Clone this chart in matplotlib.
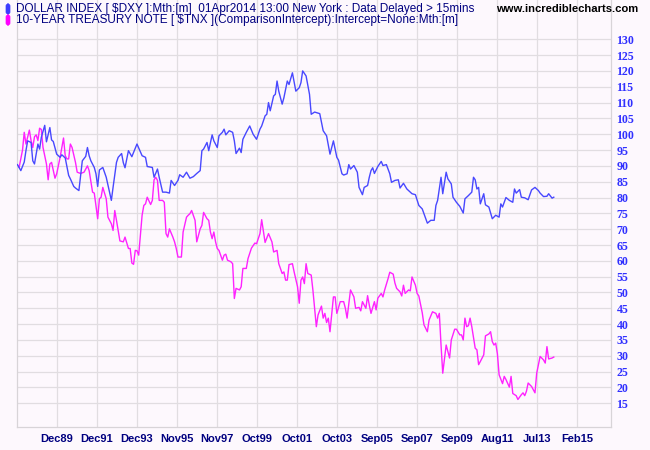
import numpy as np
import matplotlib
matplotlib.use('Agg')
import matplotlib.pyplot as plt
from matplotlib.patches import FancyBboxPatch

# months counted from Jan 1988
dxy_month = [0, 2, 4, 5, 6, 8, 9, 10, 12, 13, 14, 16, 17, 19, 20, 21, 23, 25, 26, 28,
             30, 31, 33, 34, 36, 38, 40, 41, 42, 43, 45, 46, 47, 48, 50, 52, 55, 56, 58, 59,
             61, 62, 63, 65, 67, 70, 73, 75, 76, 79, 80, 82, 83, 85, 87, 89, 90, 92, 94, 95,
             97, 99, 101, 103, 105, 107, 108, 109, 111, 112, 114, 115, 117, 118, 120, 121, 122, 124, 126, 127,
             128, 130, 131, 132, 134, 136, 138, 140, 142, 143, 145, 146, 147, 148, 150, 151, 152, 153, 155, 156,
             158, 159, 161, 163, 165, 166, 167, 169, 171, 172, 174, 177, 179, 181, 183, 185, 187, 188, 190, 191,
             193, 194, 195, 197, 199, 200, 202, 203, 205, 206, 207, 208, 209, 211, 213, 214, 216, 218, 219, 221,
             223, 224, 226, 228, 230, 231, 233, 235, 237, 238, 240, 242, 244, 245, 246, 248, 249, 251, 252, 254,
             255, 257, 259, 261, 262, 264, 266, 267, 268, 269, 270, 271, 273, 274, 276, 278, 280, 282, 283, 284,
             286, 288, 290, 291, 292, 294, 295, 297, 299, 301, 303, 305, 306, 308, 310, 311, 313, 314]
dxy_value = [90.4, 88.5, 91.2, 94.8, 97.9, 97.4, 91.6, 90.6, 96.9, 95.3, 99.0, 102.8, 97.6, 102.1, 98.2, 97.7, 93.7, 92.7, 93.5, 92.5,
             87.0, 85.9, 83.5, 83.0, 82.2, 91.6, 93.0, 95.8, 93.2, 91.6, 89.5, 87.5, 83.5, 88.7, 89.5, 86.4, 79.1, 83.2, 91.1, 92.7,
             93.9, 91.0, 89.4, 94.8, 92.9, 96.9, 93.2, 92.7, 89.8, 89.5, 86.4, 89.0, 86.4, 81.7, 81.7, 81.4, 85.4, 83.8, 85.4, 87.2,
             86.4, 88.0, 86.1, 86.6, 87.6, 88.5, 94.8, 95.3, 97.4, 94.8, 99.8, 97.9, 95.8, 99.5, 100.6, 101.6, 99.8, 101.1, 100.6, 97.9,
             93.9, 95.6, 94.2, 98.4, 100.6, 102.6, 100.0, 98.4, 101.6, 102.6, 105.8, 106.3, 110.0, 107.4, 112.1, 112.6, 116.8, 113.6, 109.5, 111.5,
             116.8, 115.7, 119.4, 113.6, 114.7, 116.3, 120.0, 118.4, 112.6, 106.3, 107.0, 106.5, 101.1, 99.5, 93.7, 97.9, 92.7, 91.8, 87.5, 87.1,
             87.5, 90.4, 89.0, 90.1, 88.0, 83.2, 80.9, 83.2, 83.8, 86.4, 88.5, 89.4, 87.6, 89.8, 91.4, 90.1, 90.4, 87.5, 84.8, 85.4,
             85.6, 83.0, 84.5, 82.7, 81.7, 81.2, 80.9, 77.5, 76.4, 74.9, 71.9, 72.8, 72.8, 77.5, 79.1, 86.4, 81.2, 88.0, 85.9, 84.3,
             80.1, 78.5, 77.2, 75.1, 79.6, 80.6, 81.7, 86.4, 85.6, 82.7, 83.2, 78.0, 81.2, 77.7, 77.0, 73.3, 74.4, 73.8, 78.0, 77.0,
             80.0, 79.1, 78.5, 82.7, 81.4, 82.5, 80.1, 79.9, 79.3, 82.4, 83.2, 82.2, 81.4, 80.3, 80.4, 81.2, 79.8, 80.1]

tnx_month = [0, 1, 3, 4, 5, 7, 8, 9, 10, 11, 12, 13, 14, 15, 17, 18, 19, 20, 22, 23,
             25, 26, 27, 28, 29, 30, 31, 32, 34, 35, 37, 39, 41, 42, 44, 45, 47, 48, 49, 50,
             52, 53, 55, 56, 57, 58, 60, 62, 63, 65, 66, 67, 68, 69, 70, 71, 73, 74, 75, 76,
             78, 79, 80, 81, 82, 83, 85, 86, 87, 88, 89, 91, 92, 93, 94, 96, 97, 99, 100, 101,
             102, 104, 105, 107, 108, 109, 111, 112, 113, 114, 115, 116, 117, 118, 120, 121, 122, 123, 125, 126,
             127, 128, 130, 131, 132, 134, 135, 137, 139, 140, 142, 143, 145, 147, 149, 150, 152, 153, 155, 156,
             157, 158, 159, 161, 162, 164, 165, 166, 167, 168, 169, 170, 172, 173, 175, 176, 178, 179, 180, 181,
             182, 183, 185, 186, 187, 189, 191, 192, 193, 195, 196, 197, 198, 200, 201, 202, 204, 205, 206, 207,
             209, 210, 211, 213, 214, 215, 217, 218, 220, 221, 222, 224, 225, 226, 227, 229, 230, 231, 233, 234,
             235, 237, 238, 240, 241, 243, 245, 246, 247, 248, 249, 251, 253, 254, 256, 257, 259, 260, 261, 262,
             263, 264, 265, 266, 268, 269, 270, 271, 273, 274, 276, 277, 278, 279, 280, 281, 282, 284, 285, 286,
             288, 289, 290, 292, 293, 295, 296, 297, 298, 299, 301, 303, 304, 305, 306, 308, 309, 310, 311, 313,
             314]
tnx_value = [90.2, 89.5, 95.0, 100.6, 96.9, 101.3, 98.0, 95.8, 99.2, 99.8, 98.0, 101.9, 101.5, 95.8, 90.6, 85.6, 90.6, 91.1, 86.1, 87.5,
             92.7, 95.8, 98.8, 93.2, 92.2, 92.2, 96.9, 95.8, 91.1, 88.0, 87.6, 88.0, 90.0, 88.5, 81.7, 81.4, 73.3, 79.6, 80.1, 83.2,
             79.6, 73.8, 71.7, 69.6, 75.9, 72.8, 66.3, 66.0, 67.5, 63.9, 63.9, 59.3, 58.9, 63.3, 63.2, 61.8, 74.4, 77.5, 78.0, 80.1,
             77.8, 79.1, 85.6, 86.4, 85.4, 79.1, 79.1, 78.5, 68.6, 67.5, 70.1, 67.5, 66.0, 63.9, 61.2, 61.2, 69.1, 73.8, 74.4, 74.9,
             75.9, 72.8, 66.0, 70.1, 71.2, 75.3, 73.3, 72.8, 69.1, 67.0, 69.1, 66.0, 63.9, 63.3, 60.2, 61.8, 62.1, 60.2, 59.7, 59.1,
             48.1, 51.3, 50.8, 51.8, 57.6, 57.6, 60.7, 64.0, 65.6, 65.4, 68.6, 73.0, 65.8, 68.6, 66.0, 62.8, 63.3, 59.1, 56.0, 56.5,
             53.9, 53.9, 58.8, 59.1, 56.5, 51.8, 46.6, 53.9, 54.9, 52.8, 59.1, 56.0, 55.5, 50.7, 39.2, 42.9, 45.7, 41.9, 43.4, 40.5,
             41.9, 37.6, 48.6, 48.6, 43.4, 47.1, 47.1, 45.0, 41.9, 50.8, 49.7, 48.6, 45.0, 45.3, 44.2, 47.1, 45.0, 49.0, 46.0, 43.4,
             47.1, 44.5, 48.2, 49.7, 48.6, 50.8, 54.4, 56.4, 55.8, 53.0, 51.3, 50.2, 48.9, 52.3, 49.7, 50.8, 50.5, 54.9, 52.3, 49.7,
             48.9, 43.6, 39.8, 37.6, 41.3, 43.9, 43.4, 41.9, 43.4, 33.4, 24.5, 33.4, 29.3, 35.0, 38.4, 38.4, 36.6, 36.6, 35.0, 41.9,
             39.2, 39.5, 41.9, 39.2, 32.4, 31.9, 27.2, 28.2, 30.3, 36.3, 36.9, 37.6, 34.5, 33.4, 34.0, 30.6, 24.0, 21.2, 23.5, 22.5,
             20.1, 23.5, 18.1, 17.4, 16.2, 17.7, 18.3, 17.4, 18.8, 21.4, 20.3, 18.3, 24.5, 27.2, 29.8, 28.7, 27.7, 32.9, 29.0, 29.3,
             29.6]

date_labels = ['Dec89', 'Dec91', 'Dec93', 'Nov95', 'Nov97', 'Oct99', 'Oct01',
               'Oct03', 'Sep05', 'Sep07', 'Sep09', 'Aug11', 'Jul13', 'Feb15']
price_ticks = list(range(15, 135, 5))

legend_1 = 'DOLLAR INDEX [ $DXY ]:Mth:[m]  01Apr2014 13:00 New York : Data Delayed > 15mins'
legend_2 = '10-YEAR TREASURY NOTE [ $TNX ](ComparisonIntercept):Intercept=None:Mth:[m]'

bg = '#FDF8FD'
grid_c = '#E1DDE1'
navy = '#000080'

fig = plt.figure(figsize=(6.5, 4.5), dpi=100, facecolor=bg)
ax = fig.add_axes([17.3 / 650, 23.3 / 450, (611 - 17.3) / 650, 426.7 / 450])
ax.set_facecolor(bg)

ax.plot(dxy_month, dxy_value, color='#4848FF', lw=1.0, zorder=3)
ax.plot(tnx_month, tnx_value, color='#FF22FF', lw=1.0, zorder=2)

# grid at every 5 on the price scale, two-year steps on dates
ax.set_xlim(-0.06, 347.5)
ax.set_ylim(7.6, 142.4)
xt = np.linspace(23.0, 327.6, len(date_labels))
for x in xt:
    ax.axvline(x, color=grid_c, lw=0.9, zorder=1)
for y in price_ticks:
    ax.axhline(y, color=grid_c, lw=0.9, zorder=1)

ax.set_xticks(xt)
ax.set_xticklabels(date_labels, fontfamily='Liberation Sans', fontweight='bold',
                   fontsize=8, color=navy)
ax.yaxis.tick_right()
ax.set_yticks(price_ticks)
ax.set_yticklabels([str(v) for v in price_ticks], fontfamily='Liberation Serif',
                   fontweight='bold', fontsize=8.6, color='#3030FF')
ax.tick_params(axis='both', length=0)
ax.tick_params(axis='x', pad=5)
ax.tick_params(axis='y', pad=4)
for side in ['left', 'bottom', 'right']:
    ax.spines[side].set_color('#D8D4D8')
    ax.spines[side].set_linewidth(0.9)
ax.spines['top'].set_visible(False)

# header: series markers and titles
for yy, col, txt in [(441, '#3C3CFF', legend_1), (430, '#FF00FF', legend_2)]:
    fig.patches.append(FancyBboxPatch((6 / 650, (yy - 5) / 450), 4 / 650, 10 / 450,
                                      boxstyle='round,pad=0,rounding_size=0.004',
                                      transform=fig.transFigure, facecolor=col,
                                      edgecolor=col, lw=0.5))
    fig.text(16 / 650, yy / 450, txt, fontsize=8.5, color=navy,
             fontfamily='Liberation Sans', va='center', ha='left')
fig.text(638 / 650, 441 / 450, 'www.incrediblecharts.com', fontsize=8.1,
         fontweight='bold', color='black', fontfamily='Liberation Sans',
         va='center', ha='right')

plt.savefig('out.png', dpi=100, facecolor=bg)
